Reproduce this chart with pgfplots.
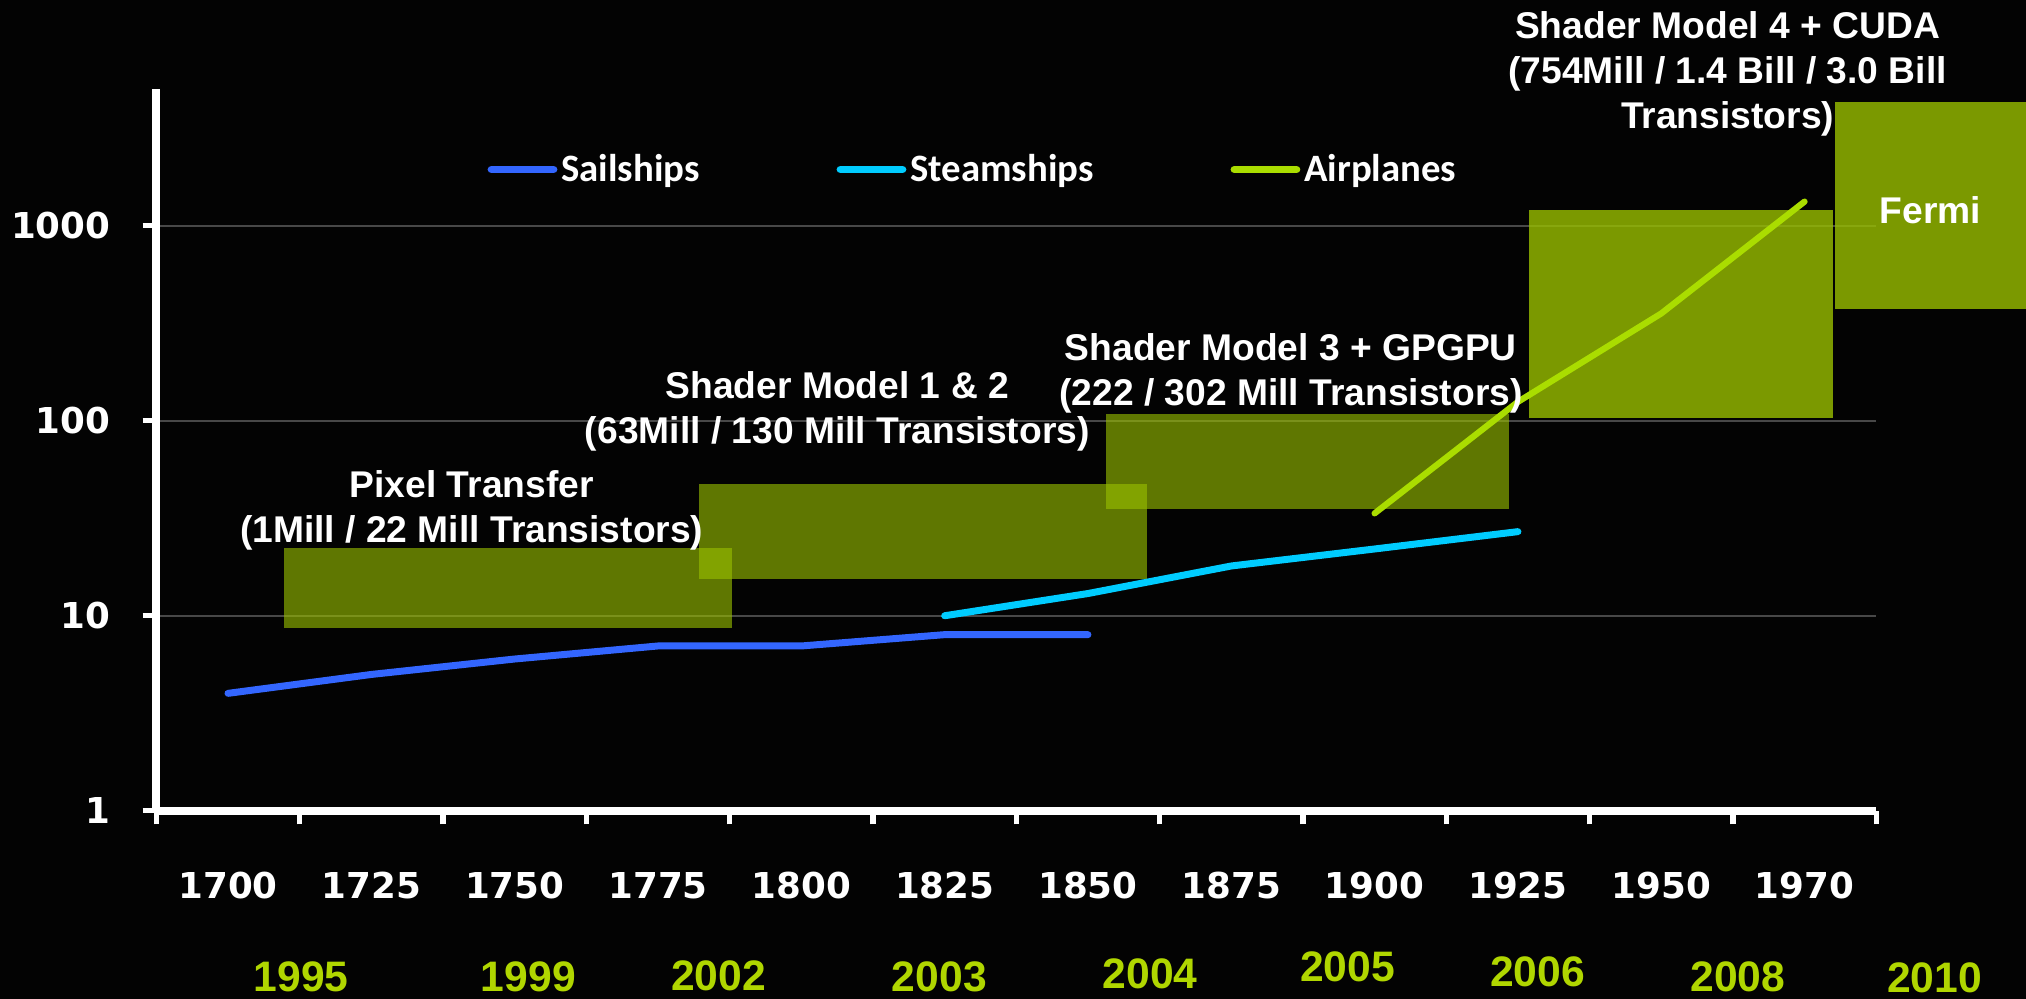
\documentclass[border=0pt]{standalone}
\usepackage{pgfplots}
\pgfplotsset{compat=1.18}
\usepackage{fontspec}
\setmainfont{Liberation Sans}
\newfontfamily\tickfont{DejaVu Sans}
\newfontfamily\legfont{Carlito}
\usetikzlibrary{backgrounds}
\definecolor{bgblack}{RGB}{3,3,3}
\definecolor{sail}{RGB}{51,102,255}
\definecolor{steam}{RGB}{0,204,255}
\definecolor{air}{RGB}{170,221,0}
\definecolor{boxgreen}{RGB}{153,191,0}
\definecolor{yeargreen}{RGB}{176,214,0}
\definecolor{gridgray}{RGB}{72,72,72}
\begin{document}
\begin{tikzpicture}[background rectangle/.style={fill=bgblack}, show background rectangle, tight background]
\begin{axis}[
  scale only axis, width=665.5bp, height=279.1bp,
  xmin=-0.5, xmax=11.5, ymode=log, ymin=1, ymax=5000,
  axis x line*=bottom, axis y line*=left,
  axis line style={white, line width=3.2bp},
  xtick={-0.5,0.5,...,11.5}, x tick label as interval,
  xticklabels={1700,1725,1750,1775,1800,1825,1850,1875,1900,1925,1950,1970},
  ytick={1,10,100,1000}, yticklabels={1,10,100,1000},
  xminorticks=false, yminorticks=false,
  tick align=outside, major tick length=5.3bp,
  tick style={white, line width=2bp},
  ticklabel style={font=\tickfont\bfseries\fontsize{13.8bp}{16bp}\selectfont, text=white},
  xticklabel style={yshift=-15bp},
  yticklabel style={xshift=-9bp},
  ymajorgrids, major grid style={color=gridgray, line width=0.8bp},
  clip=false,
  legend columns=3,
  legend style={at={(0.1923,0.889)}, anchor=west, draw=none, fill=none, inner sep=0pt,
    text=white, font=\legfont\bfseries\fontsize{15bp}{17bp}\selectfont,
    nodes={inner sep=1bp},
    /tikz/every odd column/.append style={column sep=0.5bp},
    /tikz/every even column/.append style={column sep=52bp}},
  legend image code/.code={\draw[#1, line width=3bp, line cap=round] (0bp,0bp) -- (24bp,0bp);},
]
% invisible path fixing the picture extent
\path (axis cs:-1.591,0.1084) rectangle (axis cs:12.545,14380);
% technology boxes
\addplot[draw=none, fill=boxgreen, fill opacity=0.62, forget plot] coordinates {(0.391,8.7) (3.515,8.7) (3.515,22.3) (0.391,22.3)} -- cycle;
\addplot[draw=none, fill=boxgreen, fill opacity=0.62, forget plot] coordinates {(3.286,15.4) (6.415,15.4) (6.415,47.2) (3.286,47.2)} -- cycle;
\addplot[draw=none, fill=boxgreen, fill opacity=0.62, forget plot] coordinates {(6.126,35.1) (8.939,35.1) (8.939,108) (6.126,108)} -- cycle;
\addplot[draw=none, fill=boxgreen, fill opacity=0.8, forget plot] coordinates {(9.078,103.6) (11.198,103.6) (11.198,1205) (9.078,1205)} -- cycle;
\addplot[draw=none, fill=boxgreen, fill opacity=0.8, forget plot] coordinates {(11.209,373) (12.545,373) (12.545,4310) (11.209,4310)} -- cycle;
% series
\addplot[color=sail, line width=2.7bp, line cap=round, line join=round] coordinates {(0,4) (1,5) (2,6) (3,7) (4,7) (5,8) (6,8)};
\addlegendentry{Sailships}
\addplot[color=steam, line width=2.7bp, line cap=round, line join=round] coordinates {(5,10) (6,13) (7,18) (8,22) (9,27)};
\addlegendentry{Steamships}
\addplot[color=air, line width=2.4bp, line cap=round, line join=round] coordinates {(8,33.5) (9,125) (10,355) (11,1330)};
\addlegendentry{Airplanes}
% annotations
\begin{scope}[every node/.style={font=\bfseries\fontsize{14.4bp}{17.5bp}\selectfont, text=white, align=center, inner sep=0pt}]
\node at (axis cs:1.70,34.7) {Pixel Transfer\\(1Mill / 22 Mill Transistors)};
\node at (axis cs:4.251,112) {Shader Model 1 \& 2\\(63Mill / 130 Mill Transistors)};
\node at (axis cs:7.416,174.8) {Shader Model 3 + GPGPU\\(222 / 302 Mill Transistors)};
\node at (axis cs:10.463,6026) {Shader Model 4 + CUDA\\(754Mill / 1.4 Bill / 3.0 Bill\\Transistors)};
\node at (axis cs:11.878,1195) {Fermi};
\end{scope}
\begin{scope}[every node/.style={font=\bfseries\fontsize{16.5bp}{18bp}\selectfont, text=yeargreen, inner sep=0pt}]
\node at (axis cs:0.510,0.1406) {1995};
\node at (axis cs:2.096,0.1406) {1999};
\node at (axis cs:3.422,0.1428) {2002};
\node at (axis cs:4.963,0.1406) {2003};
\node at (axis cs:6.433,0.145) {2004};
\node at (axis cs:7.812,0.159) {2005};
\node at (axis cs:9.138,0.149) {2006};
\node at (axis cs:10.535,0.1406) {2008};
\node at (axis cs:11.906,0.1384) {2010};
\end{scope}
\end{axis}
\end{tikzpicture}
\end{document}
